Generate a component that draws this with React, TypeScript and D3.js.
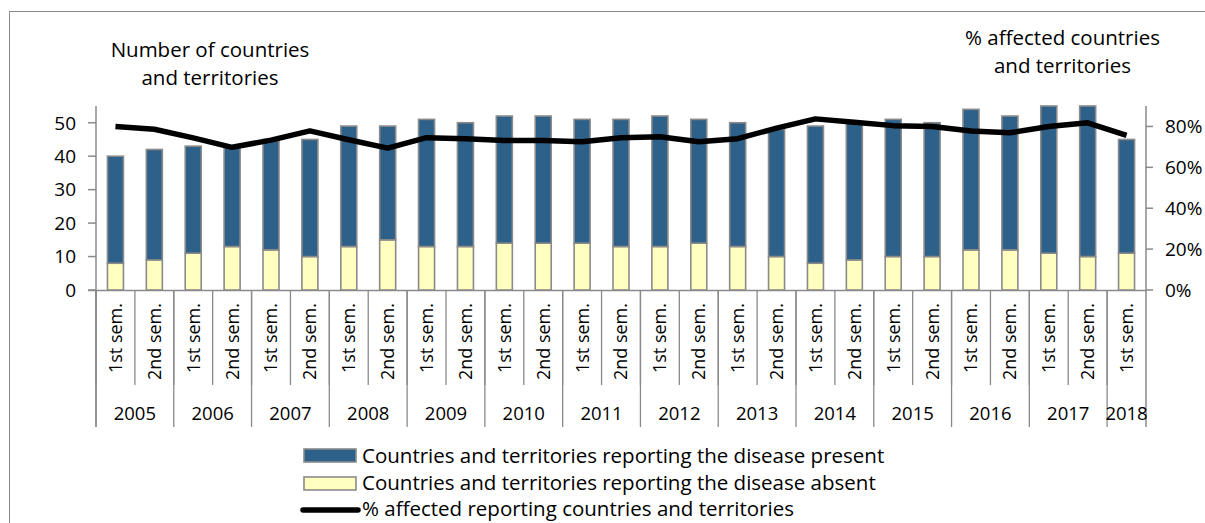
import React from 'react';
import * as d3 from 'd3';

const years = ['2005','2006','2007','2008','2009','2010','2011','2012','2013','2014','2015','2016','2017','2018'];
const semesters = [
  '1st sem.','2nd sem.','1st sem.','2nd sem.','1st sem.','2nd sem.','1st sem.','2nd sem.',
  '1st sem.','2nd sem.','1st sem.','2nd sem.','1st sem.','2nd sem.','1st sem.','2nd sem.',
  '1st sem.','2nd sem.','1st sem.','2nd sem.','1st sem.','2nd sem.','1st sem.','2nd sem.',
  '1st sem.','2nd sem.','1st sem.'
];
const semYears = [
  '2005','2005','2006','2006','2007','2007','2008','2008','2009','2009','2010','2010','2011','2011',
  '2012','2012','2013','2013','2014','2014','2015','2015','2016','2016','2017','2017','2018'
];
const present = [32,33,32,30,33,35,36,34,38,37,38,38,37,38,39,37,37,38,41,41,41,40,42,40,44,45,34];
const absent = [8,9,11,13,12,10,13,15,13,13,14,14,14,13,13,14,13,10,8,9,10,10,12,12,11,10,11];
const pctAffected = [80.0,78.6,74.4,69.8,73.3,77.8,73.5,69.4,74.5,74.0,73.1,73.1,72.5,74.5,75.0,72.5,74.0,79.2,83.7,82.0,80.4,80.0,77.8,76.9,80.0,81.8,75.6];
const leftTicks = [0,10,20,30,40,50];
const rightTicks = [0,20,40,60,80];
const legendLabels = [
  'Countries and territories reporting the disease present',
  'Countries and territories reporting the disease absent',
  '% affected reporting countries and territories'
];

const FONT = "'Open Sans', sans-serif";
const BLUE = '#2E6189';
const YELLOW = '#FFFFC0';
const GRAY = '#8A8A8A';

export default function App() {
  const idx = d3.range(semesters.length);
  const x = d3.scaleBand<number>().domain(idx).range([96, 1146]).paddingInner(0).paddingOuter(0);
  const yL = d3.scaleLinear().domain([0, 55]).range([290, 106]);
  const yR = d3.scaleLinear().domain([0, 90]).range([290, 106]);
  const bw = 16;
  const cx = (i: number) => (x(i) as number) + x.bandwidth() / 2;

  const line = d3.line<number>().x((_, i) => cx(i)).y(d => yR(d));

  const groups = years.map(y => {
    const ids = idx.filter(i => semYears[i] === y);
    return { year: y, start: ids[0], end: ids[ids.length - 1] };
  });
  const fsTitle = 20.5;
  const fsTick = 19;
  const fsSem = 18;
  const fsYear = 18.5;

  return (
    <svg width={1205} height={523} style={{ position: 'absolute', left: 0, top: 0 }} fontFamily={FONT}>
      <rect x={9.5} y={11.5} width={1400} height={700} fill="white" stroke={GRAY} strokeWidth={1} />

      <g fontSize={fsTitle} fill="#000" textAnchor="middle">
        <text x={210} y={56.7}>Number of countries</text>
        <text x={210} y={85}>and territories</text>
        <text x={1062.5} y={45}>% affected countries</text>
        <text x={1062.5} y={73}>and territories</text>
      </g>

      <line x1={96} x2={96} y1={106} y2={427} stroke={GRAY} strokeWidth={1.5} />
      {leftTicks.map(t => (
        <g key={'l' + t}>
          <line x1={88} x2={96} y1={yL(t)} y2={yL(t)} stroke={GRAY} strokeWidth={1.5} />
          <text x={76} y={yL(t)} dy="0.36em" textAnchor="end" fontSize={fsTick}>{t}</text>
        </g>
      ))}
      <line x1={1146} x2={1146} y1={106} y2={427} stroke={GRAY} strokeWidth={1.5} />
      {rightTicks.map(t => (
        <g key={'r' + t}>
          <line x1={1146} x2={1153} y1={yR(t)} y2={yR(t)} stroke={GRAY} strokeWidth={1.5} />
          <text x={1165} y={yR(t)} dy="0.36em" textAnchor="start" fontSize={fsTick}>{t + '%'}</text>
        </g>
      ))}

      <line x1={88} x2={1146} y1={290.5} y2={290.5} stroke={GRAY} strokeWidth={1.5} />
      {idx.map(i => (
        <line key={'s' + i} x1={x(i) as number} x2={x(i) as number} y1={290} y2={385} stroke={GRAY} strokeWidth={1.3} />
      ))}
      {groups.map(g => (
        <g key={'y' + g.year}>
          <line x1={x(g.start) as number} x2={x(g.start) as number} y1={290} y2={427} stroke={GRAY} strokeWidth={1.3} />
          <text x={((x(g.start) as number) + (x(g.end) as number) + x.bandwidth()) / 2} y={420} textAnchor="middle" fontSize={fsYear}>{g.year}</text>
        </g>
      ))}
      {idx.map(i => (
        <text key={'t' + i} transform={`translate(${cx(i)},303) rotate(-90)`} textAnchor="end" dy="0.36em" fontSize={fsSem}>{semesters[i]}</text>
      ))}

      {idx.map(i => (
        <g key={'b' + i}>
          <rect x={cx(i) - bw / 2} y={yL(absent[i])} width={bw} height={yL(0) - yL(absent[i])} fill={YELLOW} stroke={GRAY} strokeWidth={1.6} />
          <rect x={cx(i) - bw / 2} y={yL(absent[i] + present[i])} width={bw} height={yL(absent[i]) - yL(absent[i] + present[i])} fill={BLUE} stroke={GRAY} strokeWidth={1.6} />
        </g>
      ))}

      <path d={line(pctAffected) || ''} fill="none" stroke="#000" strokeWidth={5.5} strokeLinejoin="round" />

      <g fontSize={fsTitle}>
        <rect x={304} y={449} width={52} height={13} fill={BLUE} stroke={GRAY} strokeWidth={1.6} />
        <text x={362} y={463}>{legendLabels[0]}</text>
        <rect x={304} y={477} width={52} height={13} fill={YELLOW} stroke={GRAY} strokeWidth={1.6} />
        <text x={362} y={489.5}>{legendLabels[1]}</text>
        <line x1={303} x2={358} y1={510} y2={510} stroke="#000" strokeWidth={5.5} strokeLinecap="round" />
        <text x={362} y={516}>{legendLabels[2]}</text>
      </g>
    </svg>
  );
}
